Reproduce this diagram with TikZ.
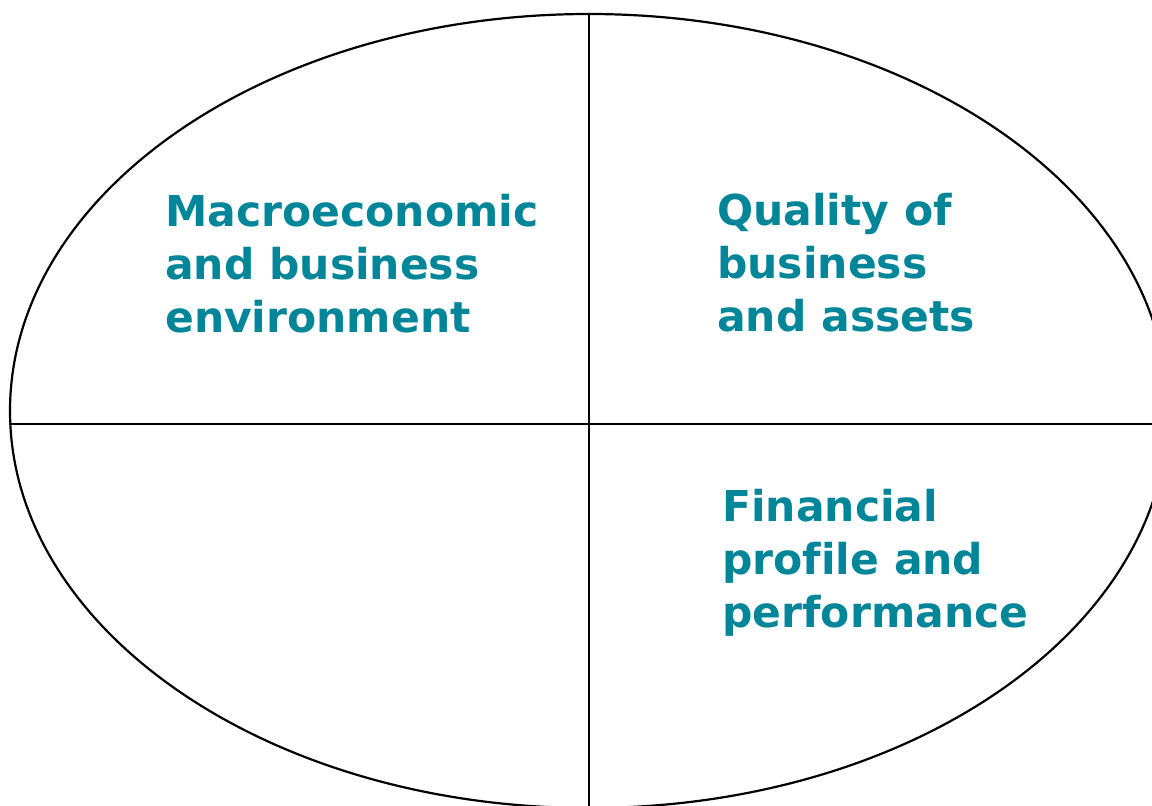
\documentclass[tikz,border=0pt]{standalone}
\usetikzlibrary{shapes.geometric}
\usepackage{fontspec}
\setmainfont[Ligatures={NoCommon}]{DejaVu Sans}
\definecolor{tealtext}{RGB}{0,133,153}
\tikzset{
  frame/.style={draw=black, line width=2.2pt},
  label/.style={text=tealtext, font=\bfseries\fontsize{42.5}{53}\selectfont, align=left, inner sep=0pt, anchor=north west}
}
\begin{document}
\begin{tikzpicture}[x=1pt,y=-1pt]
\useasboundingbox (0,0) rectangle (1152,806);
\begin{scope}
\clip (0,0) rectangle (1152,806);
\node[frame, ellipse, minimum width=1158pt, minimum height=794pt, inner sep=0pt] (oval) at (589,411) {};
\coordinate (vtop) at (589,14);
\coordinate (vbot) at (589,806);
\coordinate (hleft) at (10,424);
\coordinate (hright) at (1152,424);
\draw[frame] (vtop) -- (vbot);
\draw[frame] (hleft) -- (hright);
\end{scope}
\node[label] (macro) at (165,194) {Macroeconomic\\and business\\environment};
\node[label] (quality) at (717,193) {Quality of\\business\\and assets};
\node[label] (financial) at (722,489) {Financial\\profile and\\performance};
\end{tikzpicture}
\end{document}
